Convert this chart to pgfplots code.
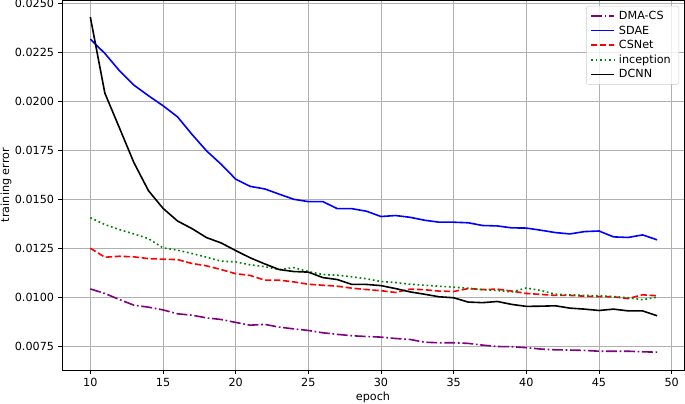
\documentclass[border=0pt]{standalone}
\usepackage{pgfplots}
\pgfplotsset{compat=1.18}
\usepackage{pgfplotstable}
\usepackage{fontspec}
\setmainfont{DejaVu Sans}

\definecolor{mplpurple}{HTML}{800080}
\definecolor{mplgreen}{HTML}{008000}
\definecolor{gridgray}{HTML}{B0B0B0}

% epoch, DMA-CS, SDAE, CSNet, inception, DCNN
\pgfplotstableread{
e    dma     sdae    csnet   incep   dcnn
10 0.01042 0.02318 0.01250 0.01406 0.02431
11 0.01019 0.02245 0.01204 0.01371 0.02042
12 0.00988 0.02157 0.01209 0.01345 0.01865
13 0.00959 0.02083 0.01206 0.01323 0.01687
14 0.00949 0.02029 0.01197 0.01299 0.01544
15 0.00935 0.01978 0.01194 0.01252 0.01454
16 0.00915 0.01921 0.01192 0.01240 0.01389
17 0.00908 0.01831 0.01172 0.01223 0.01350
18 0.00894 0.01747 0.01160 0.01204 0.01304
19 0.00886 0.01679 0.01141 0.01184 0.01277
20 0.00871 0.01603 0.01120 0.01180 0.01238
21 0.00857 0.01566 0.01111 0.01165 0.01201
22 0.00861 0.01553 0.01087 0.01156 0.01170
23 0.00847 0.01526 0.01087 0.01141 0.01141
24 0.00838 0.01500 0.01078 0.01151 0.01131
25 0.00830 0.01488 0.01066 0.01131 0.01128
26 0.00818 0.01488 0.01061 0.01116 0.01100
27 0.00810 0.01452 0.01056 0.01112 0.01090
28 0.00803 0.01452 0.01046 0.01104 0.01065
29 0.00799 0.01439 0.01039 0.01094 0.01065
30 0.00796 0.01412 0.01033 0.01080 0.01059
31 0.00789 0.01417 0.01024 0.01075 0.01044
32 0.00784 0.01408 0.01041 0.01066 0.01027
33 0.00770 0.01393 0.01038 0.01061 0.01015
34 0.00767 0.01383 0.01031 0.01056 0.01002
35 0.00767 0.01383 0.01029 0.01051 0.00997
36 0.00764 0.01380 0.01044 0.01046 0.00975
37 0.00755 0.01366 0.01039 0.01038 0.00972
38 0.00748 0.01364 0.01041 0.01034 0.00978
39 0.00747 0.01354 0.01031 0.01027 0.00963
40 0.00742 0.01353 0.01019 0.01047 0.00953
41 0.00735 0.01342 0.01014 0.01034 0.00954
42 0.00731 0.01330 0.01009 0.01015 0.00956
43 0.00730 0.01323 0.01009 0.01012 0.00944
44 0.00728 0.01335 0.01005 0.01009 0.00939
45 0.00724 0.01338 0.01003 0.01007 0.00932
46 0.00724 0.01308 0.01002 0.01003 0.00939
47 0.00724 0.01305 0.00993 0.00997 0.00930
48 0.00721 0.01318 0.01012 0.00987 0.00930
49 0.00719 0.01293 0.01007 0.01000 0.00905
}\losses

\begin{document}
\fontsize{11.2}{13.5}\selectfont
\begin{tikzpicture}
  \begin{axis}[
      name=ax,
      scale only axis,
      width=622pt, height=370pt,
      xmin=8.05, xmax=50.85,
      ymin=0.00628, ymax=0.02518,
      xtick={10,15,...,50},
      ytick={0.0075,0.0100,0.0125,0.0150,0.0175,0.0200,0.0225,0.0250},
      scaled y ticks=false,
      yticklabel style={/pgf/number format/.cd, fixed, fixed zerofill, precision=4},
      /pgf/number format/assume math mode=true,
      xtick pos=bottom, ytick pos=left,
      tick align=outside,
      major tick length=4pt,
      tick style={black, line width=0.9pt},
      axis line style={line width=0.9pt},
      grid=major,
      major grid style={gridgray, line width=0.9pt},
      xlabel={epoch},
      ylabel={training error},
      xlabel style={yshift=2pt},
      ylabel style={at={(axis description cs:-0.09,0.5)}, anchor=center},
      legend cell align=left,
      legend image code/.code={%
        \draw[#1, line width=1.6pt] plot coordinates {(0pt,0pt) (11.5pt,0pt) (23pt,0pt)};},
      legend style={at={(1,1)}, anchor=north east, xshift=-5pt, yshift=-6pt,
        draw=black!20, rounded corners=2pt, fill=white, fill opacity=0.8,
        text opacity=1, inner xsep=4pt, inner ysep=3pt,
        row sep=0.5pt, font=\fontsize{11.2}{13.5}\selectfont,
        nodes={inner xsep=4pt}},
    ]
    \addplot[mplpurple, line width=1.6pt, dash pattern=on 10.9pt off 2.7pt on 1.7pt off 2.7pt] table[x=e, y=dma] {\losses};
    \addplot[blue, line width=1.6pt] table[x=e, y=sdae] {\losses};
    \addplot[red, line width=1.6pt, dash pattern=on 6.3pt off 2.7pt] table[x=e, y=csnet] {\losses};
    \addplot[mplgreen, line width=1.6pt, dash pattern=on 1.7pt off 2.8pt] table[x=e, y=incep] {\losses};
    \addplot[black, line width=1.6pt] table[x=e, y=dcnn] {\losses};
    \legend{DMA-CS, SDAE, CSNet, inception, DCNN}
  \end{axis}
  \pgfresetboundingbox
  \path[use as bounding box] ([xshift=-62pt, yshift=-34pt]ax.south west) rectangle ([xshift=1pt]ax.north east);
\end{tikzpicture}
\end{document}
